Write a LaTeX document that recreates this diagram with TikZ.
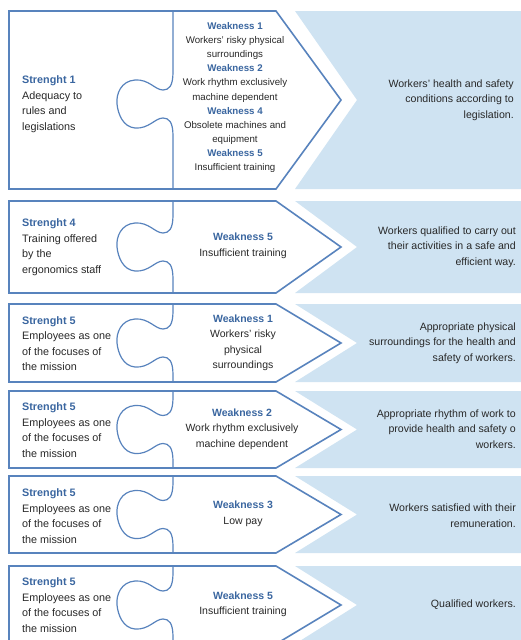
\documentclass[tikz,border=0pt]{standalone}
\usepackage{fontspec}
\setmainfont{Liberation Sans}
\usepackage{xcolor}
\usepackage{tikz}
\usetikzlibrary{positioning}
\definecolor{lineblue}{RGB}{88,131,189}
\definecolor{headblue}{RGB}{58,102,160}
\definecolor{paleblue}{RGB}{207,227,242}
\definecolor{bodygray}{RGB}{40,40,40}
\newcommand{\heading}[1]{\textcolor{headblue}{\textbf{#1}}}
\tikzstyle{piece} = [draw=lineblue, line width=1.6pt, fill=white, line join=miter]
\tikzstyle{joint} = [draw=lineblue, line width=1.2pt]
\tikzstyle{resultbox} = [fill=paleblue]
\tikzstyle{strength} = [anchor=west, align=left, inner sep=0pt, text=bodygray, font=\fontsize{10.8}{15.5}\selectfont]
\tikzstyle{weakness} = [align=center, inner sep=0pt, text=bodygray, font=\fontsize{10.5}{15.5}\selectfont]
\tikzstyle{weaklist} = [weakness, font=\fontsize{9.7}{14.1}\selectfont]
\tikzstyle{result} = [anchor=east, align=right, inner sep=0pt, text=bodygray, font=\fontsize{10.6}{15.5}\selectfont]

\begin{document}
\begin{tikzpicture}[x=1pt, y=-1pt]
\useasboundingbox (0,0) rectangle (521,640);
\clip (0,0) rectangle (521,640);

% puzzle rows: top / bottom / centre of the knob
\foreach \t/\b/\k in {11/189/104, 201/293/247, 304/382/343, 391/468/429.5, 476/553/514.5, 566/644/605} {
  \pgfmathsetmacro{\m}{(\t+\b)/2}
  \fill[resultbox] (295,\t) -- (530,\t) -- (530,\b) -- (295,\b) -- (357,\m) -- cycle;
  \draw[piece] (9,\t) -- (276,\t) -- (341,\m) -- (276,\b) -- (9,\b) -- cycle;
  \draw[joint] (173,\t) -- (173,\k-32)
    .. controls (173,\k-18) and (169,\k-14) .. (163,\k-14)
    .. controls (155,\k-14) and (149,\k-25) .. (135,\k-24)
    .. controls (121,\k-23) and (116,\k-10) .. (117,\k)
    .. controls (118,\k+10) and (123,\k+23) .. (135,\k+24)
    .. controls (149,\k+25) and (155,\k+14) .. (163,\k+14)
    .. controls (169,\k+14) and (173,\k+18) .. (173,\k+32) -- (173,\b);
}

% row 1
\node (str1) [strength] at (22,104) {\heading{Strenght 1}\\Adequacy to\\rules and\\legislations};
\node (weak1) [weaklist] at (235,97.5) {\heading{Weakness 1}\\Workers’ risky physical\\surroundings\\\heading{Weakness 2}\\Work rhythm exclusively\\machine dependent\\\heading{Weakness 4}\\Obsolete machines and\\equipment\\\heading{Weakness 5}\\Insufficient training};
\node (res1) [result] at (514,100) {Workers’ health and safety\\conditions according to\\legislation.};

% row 2
\node (str2) [strength] at (22,247) {\heading{Strenght 4}\\Training offered\\by the\\ergonomics staff};
\node (weak2) [weakness] at (243,246) {\heading{Weakness 5}\\Insufficient training};
\node (res2) [result] at (516,247) {Workers qualified to carry out\\their activities in a safe and\\efficient way.};

% row 3
\node (str3) [strength] at (22,343.5) {\heading{Strenght 5}\\Employees as one\\of the focuses of\\the mission};
\node (weak3) [weakness] at (243,343) {\heading{Weakness 1}\\Workers’ risky\\physical\\surroundings};
\node (res3) [result] at (516,343) {Appropriate physical\\surroundings for the health and\\safety of workers.};

% row 4
\node (str4) [strength] at (22,430) {\heading{Strenght 5}\\Employees as one\\of the focuses of\\the mission};
\node (weak4) [weakness] at (242,429) {\heading{Weakness 2}\\Work rhythm exclusively\\machine dependent};
\node (res4) [result] at (516,429) {Appropriate rhythm of work to\\provide health and safety o\\workers.};

% row 5
\node (str5) [strength] at (22,516) {\heading{Strenght 5}\\Employees as one\\of the focuses of\\the mission};
\node (weak5) [weakness] at (243,514) {\heading{Weakness 3}\\Low pay};
\node (res5) [result] at (516,515.5) {Workers satisfied with their\\remuneration.};

% row 6
\node (str6) [strength] at (22,605) {\heading{Strenght 5}\\Employees as one\\of the focuses of\\the mission};
\node (weak6) [weakness] at (243,604.5) {\heading{Weakness 5}\\Insufficient training};
\node (res6) [result] at (516,605) {Qualified workers.};
\end{tikzpicture}
\end{document}
